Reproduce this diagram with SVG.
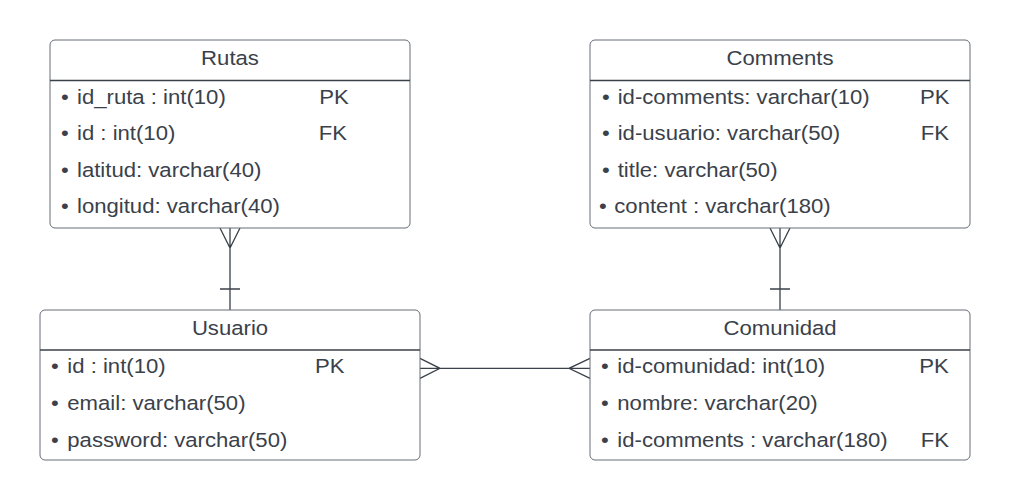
<svg xmlns="http://www.w3.org/2000/svg" width="1010" height="501" viewBox="0 0 1010 501">
<style>
.box{fill:#ffffff;stroke:#666c75;stroke-width:1}
.div{stroke:#3a414a;stroke-width:1.3}
.t{font-family:"Liberation Sans",Arial,sans-serif;font-size:19.5px;fill:#3a414a}
.h{text-anchor:middle}
.c{fill:none;stroke:#3a414a;stroke-width:1.3}
</style>
<rect width="1010" height="501" fill="#ffffff"/>
<g id="connectors">
  <path class="c" d="M230,228 V310 M220,228 L230,248 L240,228 M220,289 H240"/>
  <path class="c" d="M780,228 V310 M770,228 L780,248 L790,228 M770,289 H790"/>
  <path class="c" d="M420,368.3 H590 M420,358.3 L440,368.3 L420,378.3 M590,358.3 L569,368.3 L590,378.3"/>
</g>
<g id="rutas">
  <rect class="box" x="50" y="40" width="360" height="188" rx="5"/>
  <line class="div" x1="50" y1="80.5" x2="410" y2="80.5"/>
  <text class="t h" transform="translate(230 64.5) scale(1.135 1)">Rutas</text>
  <text class="t" transform="translate(61 104) scale(1.135 1)">•</text>
  <text class="t" transform="translate(77 104) scale(1.135 1)">id_ruta : int(10)</text>
  <text class="t" transform="translate(319.3 104) scale(1.135 1)">PK</text>
  <text class="t" transform="translate(61 140.4) scale(1.135 1)">•</text>
  <text class="t" transform="translate(77 140.4) scale(1.135 1)">id : int(10)</text>
  <text class="t" transform="translate(318.7 140.4) scale(1.135 1)">FK</text>
  <text class="t" transform="translate(61 176.8) scale(1.135 1)">•</text>
  <text class="t" transform="translate(77 176.8) scale(1.135 1)">latitud: varchar(40)</text>
  <text class="t" transform="translate(61 213.2) scale(1.135 1)">•</text>
  <text class="t" transform="translate(77 213.2) scale(1.135 1)">longitud: varchar(40)</text>
</g>
<g id="comments">
  <rect class="box" x="590" y="40" width="380" height="188" rx="5"/>
  <line class="div" x1="590" y1="80.5" x2="970" y2="80.5"/>
  <text class="t h" transform="translate(780 64.5) scale(1.135 1)">Comments</text>
  <text class="t" transform="translate(602 104) scale(1.135 1)">•</text>
  <text class="t" transform="translate(617.7 104) scale(1.135 1)">id-comments: varchar(10)</text>
  <text class="t" transform="translate(920 104) scale(1.135 1)">PK</text>
  <text class="t" transform="translate(602 140.4) scale(1.135 1)">•</text>
  <text class="t" transform="translate(617.7 140.4) scale(1.135 1)">id-usuario: varchar(50)</text>
  <text class="t" transform="translate(920.7 140.4) scale(1.135 1)">FK</text>
  <text class="t" transform="translate(602 176.8) scale(1.135 1)">•</text>
  <text class="t" transform="translate(617.7 176.8) scale(1.135 1)">title: varchar(50)</text>
  <text class="t" transform="translate(599 213.2) scale(1.135 1)">•</text>
  <text class="t" transform="translate(614.3 213.2) scale(1.135 1)">content : varchar(180)</text>
</g>
<g id="usuario">
  <rect class="box" x="40" y="310" width="380" height="150" rx="5"/>
  <line class="div" x1="40" y1="350" x2="420" y2="350"/>
  <text class="t h" transform="translate(230 334.5) scale(1.135 1)">Usuario</text>
  <text class="t" transform="translate(51 373.3) scale(1.135 1)">•</text>
  <text class="t" transform="translate(67.3 373.3) scale(1.135 1)">id : int(10)</text>
  <text class="t" transform="translate(315 373.3) scale(1.135 1)">PK</text>
  <text class="t" transform="translate(51 410) scale(1.135 1)">•</text>
  <text class="t" transform="translate(67.3 410) scale(1.135 1)">email: varchar(50)</text>
  <text class="t" transform="translate(51 446.7) scale(1.135 1)">•</text>
  <text class="t" transform="translate(67.3 446.7) scale(1.135 1)">password: varchar(50)</text>
</g>
<g id="comunidad">
  <rect class="box" x="590" y="310" width="380" height="150" rx="5"/>
  <line class="div" x1="590" y1="350" x2="970" y2="350"/>
  <text class="t h" transform="translate(780 334.5) scale(1.135 1)">Comunidad</text>
  <text class="t" transform="translate(601 373.3) scale(1.135 1)">•</text>
  <text class="t" transform="translate(617.3 373.3) scale(1.135 1)">id-comunidad: int(10)</text>
  <text class="t" transform="translate(919.3 373.3) scale(1.135 1)">PK</text>
  <text class="t" transform="translate(601 410) scale(1.135 1)">•</text>
  <text class="t" transform="translate(617.3 410) scale(1.135 1)">nombre: varchar(20)</text>
  <text class="t" transform="translate(601 446.7) scale(1.135 1)">•</text>
  <text class="t" transform="translate(617.3 446.7) scale(1.135 1)">id-comments : varchar(180)</text>
  <text class="t" transform="translate(920.7 446.7) scale(1.135 1)">FK</text>
</g>
</svg>
